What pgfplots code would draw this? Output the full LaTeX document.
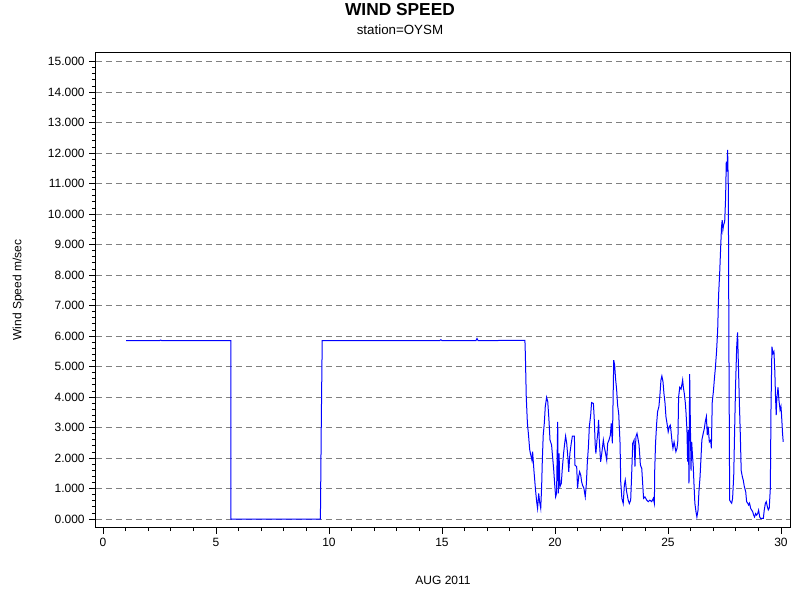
\documentclass[border=0pt]{standalone}
\usepackage{fontspec}
\setmainfont{Liberation Sans}
\usepackage{pgfplots}
\pgfplotsset{compat=1.18}
\definecolor{gridgray}{RGB}{128,128,128}
\definecolor{lineblue}{RGB}{0,0,255}
\begin{document}
\begin{tikzpicture}
\useasboundingbox (-72pt,-54.75pt) rectangle (528pt,395.25pt);
\begin{axis}[
    scale only axis,
    width=520.5pt,
    height=355.5pt,
    at={(0,0)}, anchor=south west,
    xmin=-0.31, xmax=30.4,
    ymin=-0.26, ymax=15.28,
    xtick={0,5,...,30},
    ytick={0,1,...,15},
    minor x tick num=4,
    minor y tick num=4,
    xtick pos=bottom, ytick pos=left,
    tick align=outside,
    major tick length=5pt,
    minor tick length=3pt,
    tick style={black, line width=0.6pt},
    axis line style={black, line width=0.75pt},
    ymajorgrids,
    major grid style={gridgray, line width=0.6pt, dash pattern=on 4.5pt off 3pt},
    /pgf/number format/assume math mode=true,
    yticklabel style={/pgf/number format/.cd, fixed, fixed zerofill, precision=3},
    ticklabel style={font=\fontsize{9}{11}\selectfont},
    xlabel={AUG 2011},
    xlabel style={font=\fontsize{9}{11}\selectfont, at={(axis description cs:0.5,-0.112)}, anchor=center},
    ylabel={Wind Speed m/sec},
    ylabel style={font=\fontsize{9}{11}\selectfont, at={(axis description cs:-0.112,0.5)}, anchor=center, rotate=0},
    clip=false,
]
\node[font=\fontsize{13}{15}\selectfont\bfseries] at (axis description cs:0.438,1.091) {WIND SPEED};
\node[font=\fontsize{10}{12}\selectfont] at (axis description cs:0.438,1.049) {station=OYSM};
\addplot[lineblue, line width=0.75pt] coordinates {
(1.02,5.85) (2.5,5.85) (2.55,5.87) (2.6,5.85) (5.66,5.85) (5.66,0) (9.62,0) (9.66,3.2) (9.70,5.85)
(14.9,5.85) (14.95,5.88) (15.0,5.85) (16.5,5.85) (16.55,5.92) (16.6,5.85) (18.67,5.86)
(18.69,5.38) (18.73,3.99) (18.78,3.14) (18.83,2.75) (18.88,2.28) (18.92,2.13) (18.98,1.93)
(19.01,2.21) (19.07,1.58) (19.14,0.95) (19.19,0.57) (19.23,0.35) (19.28,0.84) (19.32,0.57)
(19.37,0.35) (19.41,1.06) (19.44,1.93) (19.48,2.75) (19.53,3.16) (19.57,3.68) (19.63,3.99)
(19.68,3.85) (19.73,3.30) (19.78,2.59) (19.85,2.43) (19.90,1.99) (19.94,1.66) (19.99,1.11)
(20.03,0.73) (20.07,0.84) (20.12,3.19) (20.15,0.84) (20.18,2.15) (20.22,1.06) (20.28,1.17)
(20.32,1.61) (20.38,2.15) (20.43,2.48) (20.47,2.72) (20.52,2.48) (20.58,1.93) (20.61,1.55)
(20.66,2.15) (20.72,2.48) (20.77,2.72) (20.86,2.72) (20.88,1.77) (20.96,1.72) (21.00,1.01)
(21.05,1.39) (21.09,1.55) (21.14,1.44) (21.18,1.22) (21.22,1.11) (21.28,1.01) (21.34,0.73)
(21.39,1.17) (21.43,1.83) (21.48,2.37) (21.52,3.03) (21.58,3.41) (21.62,3.82) (21.70,3.79)
(21.74,3.25) (21.78,2.43) (21.81,2.15) (21.86,2.59) (21.90,2.86) (21.93,3.25) (21.96,2.59)
(22.02,1.88) (22.07,2.15) (22.14,2.59) (22.18,2.37) (22.24,2.15) (22.29,1.93) (22.33,2.48)
(22.39,2.59) (22.45,2.75) (22.49,3.14) (22.54,2.48) (22.60,5.21) (22.64,5.05) (22.68,4.61)
(22.73,4.23) (22.77,3.74) (22.82,3.46) (22.88,2.48) (22.91,1.22) (22.96,0.68) (23.02,0.51)
(23.07,1.11) (23.11,1.28) (23.17,0.90) (23.24,0.62) (23.29,0.51) (23.35,0.62) (23.39,1.39)
(23.44,2.48) (23.50,2.59) (23.54,1.72) (23.58,2.70) (23.63,2.81) (23.67,2.65) (23.72,2.43)
(23.78,1.77) (23.84,1.66) (23.88,1.17) (23.92,0.68) (23.98,0.73) (24.06,0.62) (24.13,0.57)
(24.20,0.62) (24.28,0.57) (24.35,0.68) (24.40,0.51)
(24.41,1.50) (24.45,2.48) (24.50,3.14) (24.54,3.52) (24.60,3.69) (24.65,4.13) (24.69,4.56)
(24.73,4.69) (24.78,4.50) (24.82,4.13) (24.87,3.80) (24.91,3.36) (24.97,3.08) (25.01,2.86)
(25.06,3.03) (25.10,3.08) (25.13,2.92) (25.18,2.53) (25.22,2.32) (25.27,2.53) (25.31,2.37)
(25.35,2.21) (25.40,2.32) (25.44,2.59) (25.47,3.99) (25.52,4.32) (25.58,4.26) (25.62,4.43)
(25.65,4.56) (25.68,4.32) (25.72,4.13) (25.77,3.80) (25.80,3.47) (25.84,2.92) (25.87,1.88)
(25.90,2.92) (25.93,1.17) (25.96,4.75) (25.99,3.19) (26.02,1.59) (26.05,2.53) (26.08,2.15)
(26.12,1.71) (26.15,1.17) (26.19,0.52) (26.24,0.24) (26.28,0.07) (26.33,0.29) (26.37,0.90)
(26.42,1.39) (26.46,1.99) (26.50,2.59) (26.56,2.81) (26.61,2.97) (26.65,3.19) (26.70,3.36)
(26.74,2.75) (26.78,3.03) (26.83,2.53) (26.89,2.59) (26.92,2.32) (26.96,3.85) (27.01,4.18)
(27.05,4.56) (27.09,4.89) (27.15,5.49) (27.20,6.20) (27.24,7.34) (27.29,8.10) (27.33,8.87)
(27.37,9.58) (27.40,9.80) (27.43,9.48) (27.46,9.64) (27.51,9.75) (27.55,10.51) (27.58,11.72)
(27.61,11.39) (27.64,12.10) (27.67,10.90) (27.70,5.21) (27.73,0.62) (27.77,0.57) (27.82,0.52)
(27.86,0.68) (27.91,1.43) (27.95,2.92) (27.99,4.32) (28.04,5.63) (28.08,6.12) (28.11,5.25)
(28.16,3.80) (28.20,2.81) (28.24,1.59) (28.29,1.39) (28.33,1.28) (28.38,1.06) (28.44,0.90)
(28.48,0.57) (28.53,0.52) (28.57,0.46) (28.61,0.52) (28.66,0.35) (28.70,0.30) (28.75,0.24)
(28.79,0.13) (28.83,0.07) (28.88,0.18) (28.92,0.13) (28.97,0.18) (29.01,0.29) (29.06,0.07)
(29.10,0.02) (29.16,0.02) (29.22,0.02) (29.26,0.29) (29.31,0.52) (29.35,0.57) (29.40,0.40)
(29.44,0.30) (29.48,0.35) (29.53,1.01) (29.56,3.69) (29.60,5.65) (29.65,5.43) (29.69,5.49)
(29.73,4.81) (29.76,3.99) (29.79,3.41) (29.82,3.99) (29.87,4.32) (29.91,3.90) (29.96,3.58)
(30.00,3.69) (30.03,3.36) (30.07,2.81) (30.10,2.53)
};
\end{axis}
\end{tikzpicture}
\end{document}
